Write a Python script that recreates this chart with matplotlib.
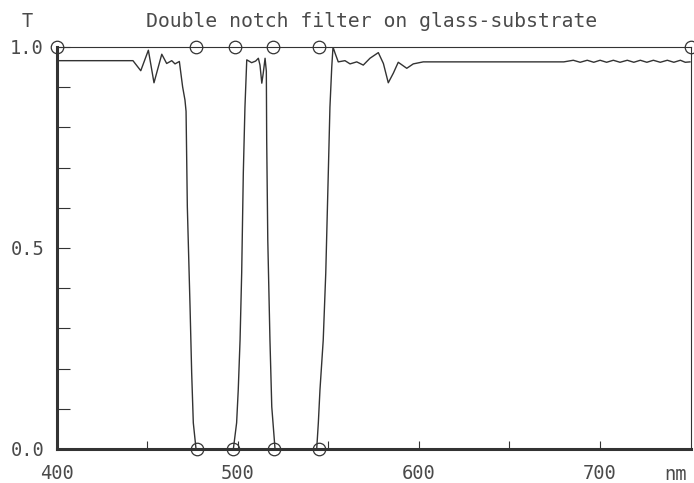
import matplotlib
matplotlib.use("Agg")
import matplotlib.pyplot as plt

# Spectrum (wavelength in nm, transmission T)
wavelength = [400, 420, 442.2, 446.5, 450.7, 453.8, 458.1, 460.8, 463.6, 465.4, 467.8,
              469.6, 470.9, 471.5, 472.2, 473.7, 474.6, 475.5, 477.0,
              497.6, 499.4, 500.3, 501.3, 502.2, 503.1, 504.0, 505.0, 505.8, 507.7,
              509.9, 511.4, 512.3, 513.3, 514.1, 515.1, 515.8, 516.0, 516.6, 517.8,
              518.8, 520.6,
              543.6, 544.5, 545.4, 547.2, 548.6, 550.0, 550.9, 551.9, 552.6, 553.7,
              555.5, 559.2, 562.0, 565.7, 569.3, 573.0, 577.6, 580.4, 583.1, 585.9,
              588.6, 593.3, 596.9, 602.4, 609.8, 640, 680.0,
              685.2, 689.0, 692.9, 696.5, 700.0, 703.6, 707.3, 711.0, 715.0, 718.6,
              722.2, 725.8, 729.4, 733.2, 737.1, 740.7, 744.3, 747.0, 749.6]
transmission = [0.966, 0.966, 0.966, 0.941, 0.992, 0.911, 0.982, 0.959, 0.966, 0.958, 0.964,
                0.901, 0.868, 0.840, 0.603, 0.354, 0.189, 0.065, 0.0,
                0.0, 0.065, 0.147, 0.271, 0.438, 0.687, 0.850, 0.968, 0.966, 0.961,
                0.965, 0.972, 0.955, 0.910, 0.935, 0.972, 0.940, 0.769, 0.520, 0.271,
                0.105, 0.0,
                0.0, 0.065, 0.147, 0.271, 0.438, 0.687, 0.850, 0.950, 1.0, 0.985,
                0.963, 0.966, 0.958, 0.963, 0.955, 0.972, 0.986, 0.959, 0.911, 0.935,
                0.962, 0.947, 0.958, 0.963, 0.963, 0.963, 0.963,
                0.967, 0.962, 0.967, 0.962, 0.967, 0.962, 0.967, 0.962, 0.967, 0.962,
                0.967, 0.962, 0.967, 0.962, 0.967, 0.962, 0.967, 0.962, 0.963]

top_marks_nm = [400, 476.8, 498.5, 519.6, 545.0, 750]
bottom_marks_nm = [477.4, 497.6, 520.3, 544.6]

x_ticks = [400, 450, 500, 550, 600, 650, 700]
x_tick_labels = ["400", "", "500", "", "600", "", "700"]
y_ticks = [0.0, 0.1, 0.2, 0.3, 0.4, 0.5, 0.6, 0.7, 0.8, 0.9, 1.0]
y_tick_labels = ["0.0", "", "", "", "", "0.5", "", "", "", "", "1.0"]

title = "Double notch filter on glass-substrate"
y_label = "T"
x_unit = "nm"

ink = "#333333"
txt = "#4a4a4a"
font = "DejaVu Sans Mono"

W, H = 694, 483
fig = plt.figure(figsize=(W / 100, H / 100), dpi=100)
ax = fig.add_axes([56.5 / W, 34 / H, (690.7 - 56.5) / W, 402 / H])
ax.set_xlim(400, 750)
ax.set_ylim(0, 1)

ax.plot(wavelength, transmission, color=ink, lw=1.0, zorder=3)
ax.plot(top_marks_nm, [1.0] * len(top_marks_nm), "o", ms=9, mfc="none",
        mec=ink, mew=0.9, clip_on=False, zorder=5)
ax.plot(bottom_marks_nm, [0.0] * len(bottom_marks_nm), "o", ms=9, mfc="none",
        mec=ink, mew=0.9, clip_on=False, zorder=5)

for s in ["left", "bottom"]:
    ax.spines[s].set_linewidth(2.2)
    ax.spines[s].set_color(ink)
for s in ["top", "right"]:
    ax.spines[s].set_linewidth(0.8)
    ax.spines[s].set_color(ink)

ax.set_xticks(x_ticks)
ax.set_xticklabels(x_tick_labels, fontfamily=font, fontsize=13.5, color=txt)
ax.set_yticks(y_ticks)
ax.set_yticklabels(y_tick_labels, fontfamily=font, fontsize=13.5, color=txt)
ax.tick_params(axis="y", direction="in", length=9.4, width=0.8, color=ink, pad=9)
ax.tick_params(axis="x", direction="in", length=5.8, width=0.8, color=ink, pad=10.5)

fig.text(371.5 / W, 1 - 27 / H, title, ha="center", va="baseline",
         fontfamily=font, fontsize=14.2, color=txt)
fig.text(27 / W, 1 - 27 / H, y_label, ha="center", va="baseline",
         fontfamily=font, fontsize=13.5, color=txt)
fig.text(675 / W, 1 - 480 / H, x_unit, ha="center", va="baseline",
         fontfamily=font, fontsize=13.5, color=txt)

fig.savefig("out.png", dpi=100, facecolor="white")
